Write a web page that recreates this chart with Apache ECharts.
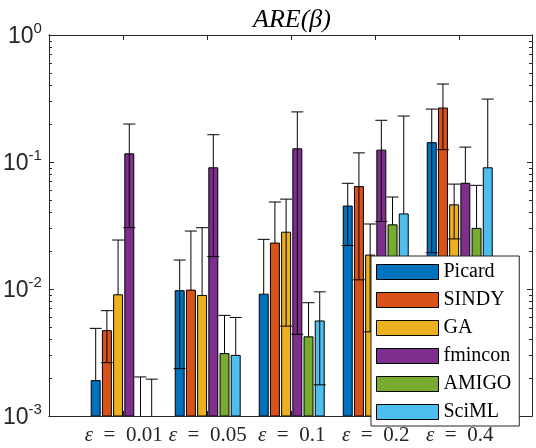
<!DOCTYPE html>
<html>
<head>
<meta charset="utf-8">
<script src="https://cdn.jsdelivr.net/npm/echarts@6/dist/echarts.min.js"></script>
<style>
  html, body { margin: 0; padding: 0; background: #fff; }
  #chart { width: 536px; height: 448px; }
</style>
</head>
<body>
<div id="chart"></div>
<script>
// noise levels (one group of bars each)
var epsLabels = ['0.01', '0.05', '0.1', '0.2', '0.4']
var methods = ['Picard', 'SINDY', 'GA', 'fmincon', 'AMIGO', 'SciML']
var colors = ['#0072BD', '#D95319', '#EDB120', '#7E2F8E', '#77AC30', '#4DBEEE']

// mean ARE per method
var picardMean = [1.9e-3, 9.7e-3, 9.1e-3, 4.5e-2, 0.142]
var sindyMean = [4.7e-3, 9.8e-3, 2.3e-2, 6.4e-2, 0.266]
var gaMean = [9.0e-3, 8.9e-3, 2.8e-2, 1.85e-2, 4.6e-2]
var fminconMean = [0.116, 9.0e-2, 0.127, 0.124, 6.8e-2]
var amigoMean = [5e-4, 3.1e-3, 4.2e-3, 3.2e-2, 3.0e-2]
var scimlMean = [5e-4, 3.0e-3, 5.6e-3, 3.9e-2, 9.0e-2]

// error bar ends (null = lower end not drawn on log scale)
var picardLow = [null, 2.36e-3, null, 2.2e-2, 1.93e-2]
var picardHigh = [4.9e-3, 1.69e-2, 2.46e-2, 6.8e-2, 0.261]
var sindyLow = [2.63e-3, null, null, 1.18e-2, 0.125]
var sindyHigh = [6.75e-3, 2.86e-2, 4.84e-2, 0.118, 0.411]
var gaLow = [null, null, 5.1e-3, 4.6e-3, 2.48e-2]
var gaHigh = [2.43e-2, 3.04e-2, 5.1e-2, 3.25e-2, 6.7e-2]
var fminconLow = [3.04e-2, 1.8e-2, 4.4e-3, 3.4e-2, null]
var fminconHigh = [0.199, 0.164, 0.248, 0.213, 0.131]
var amigoLow = [null, null, null, null, null]
var amigoHigh = [2.03e-3, 6.2e-3, 7.8e-3, 5.3e-2, 6.55e-2]
var scimlLow = [null, null, 1.76e-3, null, null]
var scimlHigh = [1.95e-3, 5.97e-3, 9.5e-3, 0.23, 0.313]

var yMajor = [1e-3, 1e-2, 1e-1, 1]
var yMinor = [2e-3, 3e-3, 4e-3, 5e-3, 6e-3, 7e-3, 8e-3, 9e-3,
  2e-2, 3e-2, 4e-2, 5e-2, 6e-2, 7e-2, 8e-2, 9e-2,
  0.2, 0.3, 0.4, 0.5, 0.6, 0.7, 0.8, 0.9]

var means = [picardMean, sindyMean, gaMean, fminconMean, amigoMean, scimlMean]
var lows = [picardLow, sindyLow, gaLow, fminconLow, amigoLow, scimlLow]
var highs = [picardHigh, sindyHigh, gaHigh, fminconHigh, amigoHigh, scimlHigh]

var Y_MIN = 1e-3
var SLOT = 0.8 / 6 // matlab grouped bar layout
var BAR_W = SLOT * 0.8
var GROUP_POS = [1, 2, 3, 4, 5]

var chart = echarts.init(document.getElementById('chart'))

function barRenderer(k) {
  return function(params, api) {
    var x = api.value(0) + (k - 2.5) * SLOT
    var v = api.value(1)
    if (!(v > Y_MIN)) return null
    var top = api.coord([x, v])
    var base = api.coord([x, Y_MIN])
    var l = api.coord([x - BAR_W / 2, v])[0]
    var r = api.coord([x + BAR_W / 2, v])[0]
    return {
      type: 'rect',
      shape: { x: l, y: top[1], width: r - l, height: base[1] - top[1] },
      style: { fill: colors[k], stroke: '#000', lineWidth: 1 }
    }
  }
}

function errRenderer(k) {
  return function(params, api) {
    var x = api.value(0) + (k - 2.5) * SLOT
    var m = api.coord([x, api.value(1)])
    var lo = api.value(2)
    var hi = api.coord([x, api.value(3)])
    var cap = 6
    var st = { stroke: '#000', lineWidth: 1 }
    var kids = []
    var bottom = m[1]
    if (lo > 0) {
      var lp = api.coord([x, lo])
      bottom = lp[1]
      kids.push({ type: 'line', shape: { x1: lp[0] - cap, y1: lp[1], x2: lp[0] + cap, y2: lp[1] }, style: st })
    }
    kids.push({ type: 'line', shape: { x1: hi[0], y1: hi[1], x2: hi[0], y2: bottom }, style: st })
    kids.push({ type: 'line', shape: { x1: hi[0] - cap, y1: hi[1], x2: hi[0] + cap, y2: hi[1] }, style: st })
    return { type: 'group', children: kids }
  }
}

var series = []
methods.forEach(function(name, k) {
  series.push({
    name: name,
    type: 'custom',
    clip: true,
    z: 2,
    itemStyle: { color: colors[k] },
    renderItem: barRenderer(k),
    data: GROUP_POS.map(function(g, i) { return [g, means[k][i]] })
  })
})
methods.forEach(function(name, k) {
  series.push({
    name: name + ' err',
    type: 'custom',
    clip: true,
    z: 3,
    silent: true,
    renderItem: errRenderer(k),
    data: GROUP_POS.map(function(g, i) {
      return [g, means[k][i], lows[k][i] == null ? 0 : lows[k][i], highs[k][i]]
    })
  })
})

var axisCol = '#262626'

function yAxisOf(pos, ticks, len, labels) {
  return {
    type: 'log',
    logBase: 10,
    min: 1e-3,
    max: 1,
    position: pos,
    axisLine: { show: true, lineStyle: { color: axisCol, width: 1 } },
    splitLine: { show: false },
    axisTick: { show: true, inside: true, length: len, customValues: ticks, lineStyle: { color: axisCol } },
    axisLabel: labels ? {
      show: true,
      customValues: yMajor,
      margin: 7,
      formatter: function(v) {
        return '{b|10}{s|' + Math.round(Math.log10(v)) + '}'
      },
      rich: {
        b: { fontSize: 23, fontFamily: 'Liberation Sans', color: axisCol, lineHeight: 27, verticalAlign: 'bottom' },
        s: { fontSize: 15, fontFamily: 'Liberation Sans', color: axisCol, lineHeight: 27, verticalAlign: 'top' }
      }
    } : { show: false }
  }
}

function xAxisOf(pos, labels) {
  return {
    type: 'value',
    min: 0.11,
    max: 5.86,
    position: pos,
    axisLine: { show: true, onZero: false, lineStyle: { color: axisCol, width: 1 } },
    splitLine: { show: false },
    axisTick: { show: true, inside: true, length: 5, customValues: GROUP_POS, lineStyle: { color: axisCol } },
    axisLabel: labels ? {
      show: true,
      customValues: GROUP_POS,
      margin: 9,
      formatter: function(v) {
        return '{e|\u03b5}{t|  =  ' + epsLabels[Math.round(v) - 1] + '}'
      },
      rich: {
        e: { fontSize: 21, fontFamily: 'Liberation Serif', fontStyle: 'italic', color: axisCol },
        t: { fontSize: 21, fontFamily: 'Liberation Serif', color: axisCol }
      }
    } : { show: false }
  }
}

chart.setOption({
  animation: false,
  title: {
    text: 'ARE(\u03b2)',
    left: 248,
    top: 2,
    textStyle: { fontFamily: 'Liberation Serif', fontStyle: 'italic', fontWeight: 'normal', fontSize: 26, color: '#000' }
  },
  grid: { left: 48, right: 4, top: 35, bottom: 32, containLabel: false },
  legend: {
    data: methods,
    orient: 'vertical',
    left: 371,
    top: 256,
    padding: [6, 8, 4, 5],
    itemWidth: 62,
    itemHeight: 15,
    itemGap: 8,
    icon: 'rect',
    backgroundColor: '#fff',
    borderColor: axisCol,
    borderWidth: 1,
    borderRadius: 0,
    itemStyle: { borderColor: '#000', borderWidth: 1 },
    textStyle: { fontFamily: 'Liberation Serif', fontSize: 20, lineHeight: 15, color: '#000' }
  },
  xAxis: [xAxisOf('bottom', true), xAxisOf('top', false)],
  yAxis: [
    yAxisOf('left', yMajor, 5, true),
    yAxisOf('left', yMinor, 3, false),
    yAxisOf('right', yMajor, 5, false),
    yAxisOf('right', yMinor, 3, false)
  ],
  series: series
})
</script>
</body>
</html>
